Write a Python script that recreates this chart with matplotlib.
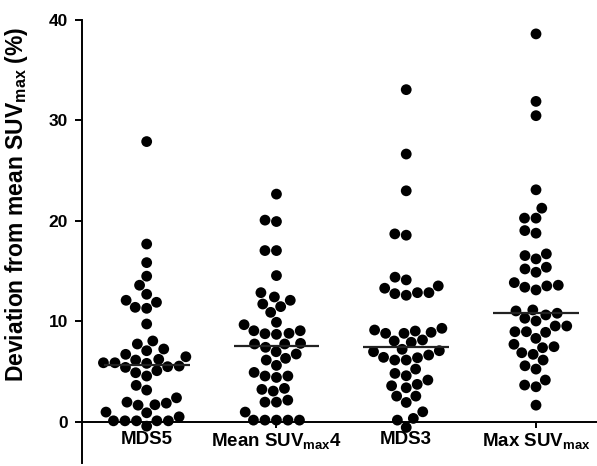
import numpy as np
import matplotlib
matplotlib.use("Agg")
import matplotlib.pyplot as plt

plt.rcParams['font.family'] = ['Liberation Sans', 'DejaVu Sans']
plt.rcParams['font.weight'] = 'bold'
plt.rcParams['mathtext.default'] = 'regular'

categories = ["MDS5", "Mean SUV$_{max}$4", "MDS3", "Max SUV$_{max}$"]

mds5 = [27.9, 17.7, 15.85, 14.5, 13.6, 12.1, 12.7, 11.4, 11.3, 11.9, 9.74, 8.05, 7.75,
        7.08, 6.48, 6.72, 7.25, 6.15, 6.22, 5.88, 5.55, 5.42, 5.49, 5.82, 5.88, 4.89,
        4.56, 5.09, 3.63, 3.16, 2.39, 1.96, 1.70, 1.66, 1.86, 0.97, 0.90, 0.50, 0.10,
        0.10, 0.10, 0.10, 0.10, -0.43]
mean_suv4 = [22.67, 19.94, 20.08, 17.05, 17.05, 14.56, 12.86, 12.43, 12.1, 11.73, 11.47,
             10.9, 9.91, 9.67, 8.77, 9.07, 9.07, 8.71, 8.81, 7.81, 7.75, 7.75, 7.42, 6.98,
             6.32, 6.15, 6.75, 5.62, 4.56, 4.42, 4.56, 4.92, 3.33, 3.06, 3.23, 1.96, 1.96,
             2.16, 0.97, 0.17, 0.17, 0.17, 0.17, 0.17]
mds3 = [33.07, 26.66, 23.0, 18.71, 18.58, 14.13, 14.4, 13.53, 12.86, 12.76, 12.6, 12.86,
        13.3, 9.14, 8.91, 8.81, 9.31, 8.81, 9.04, 8.05, 7.92, 8.15, 7.08, 6.65, 6.38, 6.15,
        6.15, 6.42, 6.98, 7.22, 5.25, 4.59, 4.82, 3.73, 3.39, 4.16, 3.59, 2.56, 2.56, 1.93,
        1.0, 0.34, 0.17, -0.56]
max_suv = [38.62, 31.9, 30.48, 23.1, 21.27, 20.28, 20.28, 19.04, 18.78, 16.22, 16.55,
           16.72, 15.22, 14.89, 15.39, 13.86, 13.53, 13.13, 13.4, 13.6, 11.14, 10.81,
           10.31, 11.04, 10.64, 10.04, 9.54, 9.54, 8.97, 8.91, 8.97, 8.31, 7.48, 7.72,
           7.38, 6.88, 6.15, 6.72, 5.25, 5.58, 3.66, 3.49, 4.16, 1.66]
group_means = [5.65, 7.5, 7.45, 10.85]
y_ticks = [0, 10, 20, 30, 40]

groups = [mds5, mean_suv4, mds3, max_suv]

fig = plt.figure(figsize=(5.97, 4.66), dpi=100)
ax = fig.add_axes([0.137, 0.0064, 0.863, 0.9506])
ax.set_xlim(-0.5, 3.47)
ax.set_ylim(-4.1, 40)

# beeswarm layout in pixel space
fig.canvas.draw()
trans = ax.transData
inv = trans.inverted()
diam_px = 10.8
col_px = 11.5
for gi, vals in enumerate(groups):
    pts = np.column_stack([np.full(len(vals), gi), np.array(vals, float)])
    pix = trans.transform(pts)
    order = np.argsort(pix[:, 1])
    cx = pix[0, 0]
    placed = []
    xs = np.zeros(len(vals))
    for i in order:
        y = pix[i, 1]
        forb = []
        for (px_, py_) in placed:
            dy = abs(py_ - y)
            if dy < col_px:
                dx = np.sqrt(col_px ** 2 - dy ** 2)
                forb.append((px_ - dx, px_ + dx))
        cands = [cx] + [a for a, b in forb] + [b for a, b in forb]
        cands = sorted(cands, key=lambda c: abs(c - cx))
        chosen = cx
        for c in cands:
            if all(not (a + 1e-6 < c < b - 1e-6) for a, b in forb):
                chosen = c
                break
        placed.append((chosen, y))
        xs[i] = chosen
    data_xy = inv.transform(np.column_stack([xs, pix[:, 1]]))
    ax.scatter(data_xy[:, 0], data_xy[:, 1], s=(diam_px * 0.72) ** 2, color='black',
               edgecolors='none', zorder=3, clip_on=False)
    ax.hlines(group_means[gi], gi - 0.33, gi + 0.33, color='#222222', lw=1.6, zorder=4)

ax.spines['top'].set_visible(False)
ax.spines['right'].set_visible(False)
ax.spines['bottom'].set_position(('data', 0))
ax.spines['left'].set_linewidth(1.4)
ax.spines['bottom'].set_linewidth(1.4)

ax.set_yticks(y_ticks)
ax.set_yticklabels([str(t) for t in y_ticks], fontsize=12.5, fontweight='bold')
ax.set_xticks(range(len(categories)))
ax.set_xticklabels(categories, fontsize=13.5, fontweight='bold')
ax.tick_params(axis='y', direction='out', length=5, width=1.4, pad=5)
ax.tick_params(axis='x', direction='out', length=4.5, width=1.4, pad=2)

ax.set_ylabel("Deviation from mean SUV$_{max}$ (%)", fontsize=16.5, fontweight='bold')
ax.yaxis.set_label_coords(-0.1, 0.585)

fig.savefig("out.png", dpi=100)
